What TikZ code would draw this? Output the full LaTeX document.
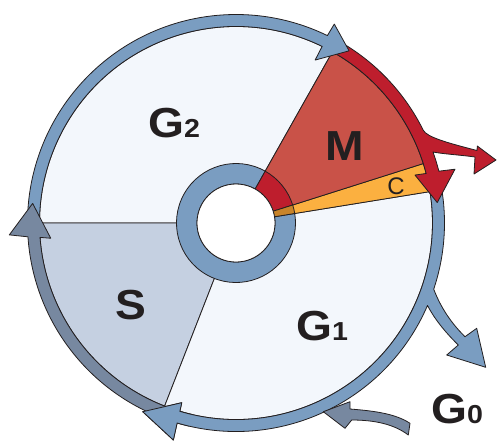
\documentclass[tikz,border=0pt]{standalone}
\usepackage{fontspec}
\setmainfont{Liberation Sans}
\usepackage{graphicx}
\definecolor{ring}{RGB}{122,157,193}
\definecolor{ringdk}{RGB}{119,136,160}
\definecolor{disc}{RGB}{243,247,252}
\definecolor{sfill}{RGB}{197,208,225}
\definecolor{mfill}{RGB}{201,82,72}
\definecolor{redarr}{RGB}{190,30,45}
\definecolor{cfill}{RGB}{251,176,64}
\definecolor{cdark}{RGB}{200,132,42}
\definecolor{ink}{RGB}{35,31,32}
\begin{document}
\begin{tikzpicture}[x=1pt,y=1pt,
  outl/.style={draw=ink, line width=0.8pt, line join=round},
  lab/.style={inner sep=0pt, text=ink, font=\bfseries\fontsize{42}{42}\selectfont},
  clab/.style={inner sep=0pt, text=ink, font=\fontsize{24}{24}\selectfont}]
\useasboundingbox (-236,-217) rectangle (261,223);
\def\rIn{196.5pt}
\def\rOut{208.5pt}
% sectors
\path[outl, fill=disc] (0,0) -- (60.6:\rIn) arc[start angle=60.6,end angle=180,radius=\rIn] -- cycle;
\path[outl, fill=sfill] (0,0) -- (180:\rIn) arc[start angle=180,end angle=248.7,radius=\rIn] -- cycle;
\path[outl, fill=disc] (0,0) -- (248.7:\rIn) arc[start angle=248.7,end angle=369.2,radius=\rIn] -- cycle;
\path[outl, fill=cfill] (0,0) -- (9.2:\rIn) arc[start angle=9.2,end angle=17.6,radius=\rIn] -- cycle;
\path[outl, fill=mfill] (0,0) -- (17.6:\rIn) arc[start angle=17.6,end angle=60.6,radius=\rIn] -- cycle;
% inner ring
\path[outl, fill=ring] (60.6:59.5pt) arc[start angle=60.6,end angle=369.2,radius=59.5pt] -- (9.2:39pt) arc[start angle=369.2,end angle=60.6,radius=39pt] -- cycle;
\path[outl, fill=redarr] (17.6:59.5pt) arc[start angle=17.6,end angle=60.6,radius=59.5pt] -- (60.6:39pt) arc[start angle=60.6,end angle=17.6,radius=39pt] -- cycle;
\path[outl, fill=cdark] (9.2:59.5pt) arc[start angle=9.2,end angle=17.6,radius=59.5pt] -- (17.6:39pt) arc[start angle=17.6,end angle=9.2,radius=39pt] -- cycle;
\path[outl, fill=white] (0,0) circle[radius=39pt];
% C arrow (G1 side) with branch to G0
\path[outl, fill=ring] (11:\rOut) arc[start angle=11,end angle=-18.5,radius=\rOut]
  .. controls (203,-80) and (212,-97) .. (229,-113.7) -- (240.7,-105.3) -- (249.7,-144.3) -- (210.7,-132) -- (222.3,-122)
  .. controls (208,-108) and (198,-95) .. (-23.3:\rOut)
  arc[start angle=-23.3,end angle=-106.4,radius=\rOut]
  -- (-106.1:225.9pt) -- (-116.3:210.5pt) -- (-106.8:187.7pt) -- (-106.6:\rIn)
  arc[start angle=-106.6,end angle=11,radius=\rIn] -- cycle;
% red arrow (M)
\path[outl, fill=redarr] (61:209pt) arc[start angle=61,end angle=26.4,radius=209pt]
  .. controls (190.6,85.8) and (212,80) .. (241,72.5) -- (241.3,77) -- (260,63) -- (238,49) -- (239,66)
  .. controls (225,68) and (207,69) .. (197,71)
  arc[start angle=19.8,end angle=14.3,radius=209pt]
  -- (13.8:225.5pt) -- (5.8:202.3pt) -- (15:185.3pt) -- (14.6:\rIn)
  arc[start angle=14.6,end angle=61,radius=\rIn] -- cycle;
% A arrow (top)
\path[outl, fill=ring] (181:\rOut) arc[start angle=181,end angle=64,radius=\rOut]
  -- (63.7:221.9pt) -- (56.7:206pt) -- (64.1:181.1pt) -- (64:\rIn)
  arc[start angle=64,end angle=181,radius=\rIn] -- cycle;
% D arrow (left, along S)
\path[outl, fill=ringdk] (250:\rOut) arc[start angle=250,end angle=183.8,radius=\rOut]
  -- (183:227pt) -- (174.5:204.3pt) -- (184.7:185.9pt) -- (184.2:\rIn)
  arc[start angle=184.2,end angle=250,radius=\rIn] -- cycle;
% redraw head of C arrow over the start of D
\begin{scope}
  \clip (0,0) -- (-125:260pt) arc[start angle=-125,end angle=-103,radius=260pt] -- cycle;
  \path[outl, fill=ring] (-100:\rOut) arc[start angle=-100,end angle=-106.4,radius=\rOut]
    -- (-106.1:225.9pt) -- (-116.3:210.5pt) -- (-106.8:187.7pt) -- (-106.6:\rIn)
    arc[start angle=-106.6,end angle=-100,radius=\rIn] -- cycle;
\end{scope}
% incoming arrow from G0
\path[outl, fill=ringdk] (87.3,-188.7) -- (114,-178.7) -- (114,-186)
  .. controls (140,-188) and (160,-191) .. (174,-200.3) -- (172.3,-212)
  .. controls (158,-201) and (138,-197) .. (115.7,-197) -- (109,-205.3) -- cycle;
% labels
\node[lab, anchor=base west] (g2) at (-88,86) {\scalebox{1.1}[1]{G\fontsize{26}{26}\selectfont2}};
\node[lab, anchor=base] (m) at (109,63) {\scalebox{1.1}[1]{M}};
\node[lab, anchor=base] (s) at (-105,-96) {\scalebox{1.1}[1]{S}};
\node[lab, anchor=base west] (g1) at (60,-117) {\scalebox{1.1}[1]{G\fontsize{26}{26}\selectfont1}};
\node[lab, anchor=base west] (g0) at (195,-200) {\scalebox{1.1}[1]{G\fontsize{26}{26}\selectfont0}};
\node[clab, anchor=base] (c) at (160,28.5) {C};
\end{tikzpicture}
\end{document}
